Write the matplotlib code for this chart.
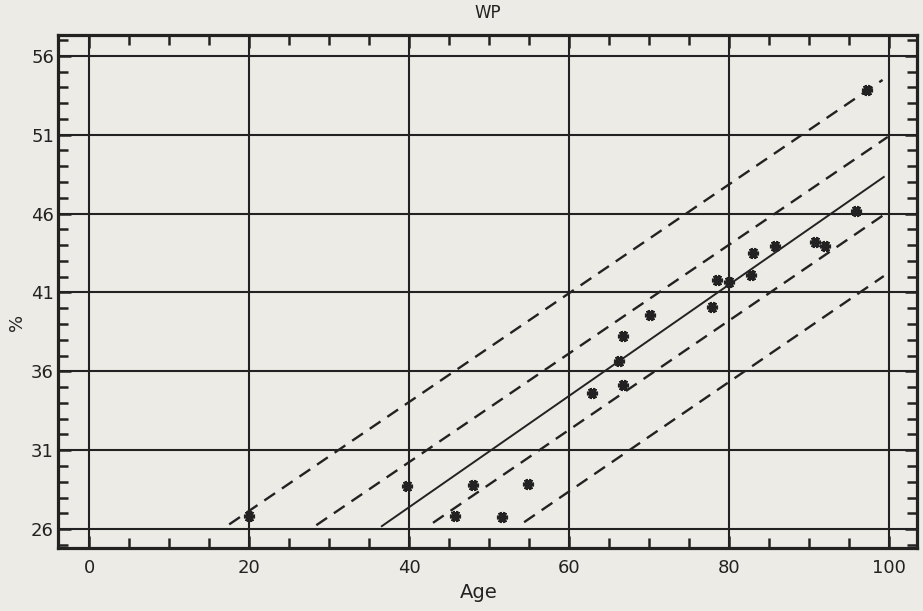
import matplotlib
matplotlib.use("Agg")
import matplotlib.pyplot as plt
from matplotlib.ticker import MultipleLocator

# ---- data ----
ages = [20, 39.8, 45.75, 48, 51.6, 54.9, 62.9, 66.75, 66.25, 66.75, 70.1,
        77.9, 78.5, 80, 82.75, 83, 85.75, 90.75, 92.1, 95.9, 97.25]
wp = [26.82, 28.73, 26.82, 28.8, 26.8, 28.85, 34.62, 35.13, 36.65, 38.24, 39.57,
      40.08, 41.79, 41.66, 42.1, 43.5, 43.95, 44.2, 43.95, 46.17, 53.84]

reg_x = [36.6, 99.4]
reg_y = [26.19, 48.32]
upper_outer_x = [17.5, 99.25]
upper_outer_y = [26.3, 54.47]
upper_inner_x = [28.4, 99.9]
upper_inner_y = [26.25, 50.86]
lower_inner_x = [43.0, 99.75]
lower_inner_y = [26.4, 46.04]
lower_outer_x = [54.4, 99.4]
lower_outer_y = [26.44, 42.04]

xticks = [0, 20, 40, 60, 80, 100]
yticks = [26, 31, 36, 41, 46, 51, 56]

bg = "#ecebe6"
ink = "#222222"

fig = plt.figure(figsize=(9.23, 6.11), dpi=100, facecolor=bg)
ax = fig.add_axes([0.063, 0.103, 0.930, 0.840])
ax.set_facecolor(bg)

for v in xticks:
    ax.axvline(v, color=ink, lw=1.5, zorder=1)
for v in yticks:
    ax.axhline(v, color=ink, lw=1.5, zorder=1)

dash = (5.5, 3.5)
for xs, ys in [(upper_outer_x, upper_outer_y), (upper_inner_x, upper_inner_y),
               (lower_inner_x, lower_inner_y), (lower_outer_x, lower_outer_y)]:
    ax.plot(xs, ys, color=ink, lw=1.7, dashes=dash, zorder=2)
ax.plot(reg_x, reg_y, color=ink, lw=1.4, zorder=2)

ax.plot(ages, wp, linestyle="none", marker=(6, 2, 90), ms=8, mew=2.6,
        color=ink, zorder=3)

ax.set_xlim(-3.9, 103.5)
ax.set_ylim(24.8, 57.33)
ax.set_xticks(xticks)
ax.set_yticks(yticks)
ax.xaxis.set_minor_locator(MultipleLocator(5))
ax.yaxis.set_minor_locator(MultipleLocator(1))
ax.tick_params(which="both", direction="in", top=True, right=True,
               color=ink, width=1.8)
ax.tick_params(which="major", length=9, labelsize=13, labelcolor=ink)
ax.tick_params(axis="x", which="major", pad=8)
ax.tick_params(axis="y", which="major", pad=3)
ax.tick_params(which="minor", length=7)
for s in ax.spines.values():
    s.set_linewidth(2.3)
    s.set_color(ink)

ax.set_title("WP", fontsize=12, color=ink, pad=12, fontweight="medium")
ax.set_xlabel("Age", fontsize=14, color=ink)
ax.xaxis.set_label_coords(0.49, -0.068)
ax.set_ylabel("%", fontsize=13, color=ink)
ax.yaxis.set_label_coords(-0.038, 0.44)

fig.savefig("out.png", dpi=100, facecolor=bg)
